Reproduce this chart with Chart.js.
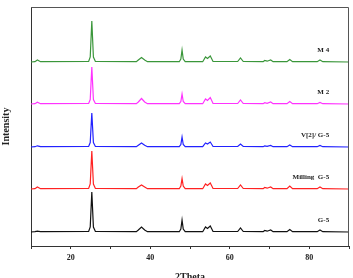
<!DOCTYPE html>
<html><head><meta charset="utf-8">
<script src="https://cdn.jsdelivr.net/npm/chart.js@4/dist/chart.umd.min.js"></script>
<style>html,body{margin:0;padding:0;background:#fff}#wrap{width:353px;height:278px}</style>
</head><body><div id="wrap"><canvas id="c" width="353" height="278"></canvas></div>
<script>
// 2Theta sample positions (degrees)
const twoTheta = [10,11,11.6,12.4,24.5,24.9,25.3,25.7,26.2,36.5,37.0,37.8,38.6,39.3,47.3,47.7,48.0,48.3,48.8,53.2,53.9,54.4,55.1,55.8,62.0,62.7,63.4,68.4,68.8,69.4,70.3,70.9,74.4,75.1,75.8,82.0,82.7,83.4,90];
// intensities (arbitrary units)
const g5      = [0,0.3,0.8,0.3,0.5,5,40,5,0.5,0.3,2,5,2,0.3,0.3,3,12,3,0.3,0.3,5,3.5,6,0.5,0.5,4,0.5,0.3,1.5,0.8,2,0.3,0.3,2.5,0.3,0.3,2,0.3,0];
const millG5  = [0,0.3,2,0.3,0.5,5,38,5,0.5,0.3,2,4,2,0.3,0.3,3,10.5,3,0.3,0.3,5,3.5,6,0.5,0.5,4,0.5,0.3,1.5,0.8,2,0.3,0.3,3,0.3,0.3,2,0.3,0];
const v2G5    = [0,0.3,1.2,0.3,0.5,4.5,34,4.5,0.5,0.3,1.8,4,1.8,0.3,0.3,2.5,10,2.5,0.3,0.3,4,3,5,0.5,0.5,3,0.5,0.3,1.2,0.6,1.5,0.3,0.3,2,0.3,0.3,1.5,0.3,0];
const m2      = [0,0.3,1.8,0.3,0.5,4.5,37,4.5,0.5,0.3,2,5.5,2,0.3,0.3,2.5,10,2.5,0.3,0.3,5,3.5,6.5,0.5,0.5,4,0.5,0.3,1.3,0.7,2,0.3,0.3,2.5,0.3,0.3,1.5,0.3,0];
const m4      = [0,0.3,2,0.3,0.5,5,41,5,0.5,0.3,2,4.5,2,0.3,0.3,3,12,3,0.3,0.3,5,3.5,6,0.5,0.5,4,0.5,0.3,1.5,0.8,2,0.3,0.3,2.5,0.3,0.3,2,0.3,0];
// stacking offsets of the curves
const offsets = [14,57,99,142,184];
const seriesNames = ['G-5','Milling  G-5','V[2]/ G-5','M 2','M 4'];
const seriesValues = [g5,millG5,v2G5,m2,m4];
const colors = ['#111111','#ff2222','#2222ff','#ff33ff','#3a963a'];
const xTickLabels = [20,40,60,80];

const datasets = seriesValues.map((vals,i)=>({
  label: seriesNames[i],
  data: twoTheta.map((x,j)=>({x:x,y:vals[j]+offsets[i]})),
  showLine:true, pointRadius:0, borderColor:colors[i], borderWidth:1.2, tension:0
}));

const deco = {
  id:'deco',
  afterDraw(chart){
    const {ctx, chartArea:a, scales} = chart;
    ctx.save();
    ctx.strokeStyle='#555'; ctx.lineWidth=1;
    ctx.beginPath();
    ctx.moveTo(a.left, a.top+0.5); ctx.lineTo(a.right-0.5, a.top+0.5); ctx.lineTo(a.right-0.5, a.bottom);
    ctx.stroke();
    ctx.fillStyle='#222';
    ctx.font='bold 7px "Liberation Serif"';
    ctx.textAlign='right'; ctx.textBaseline='middle';
    seriesNames.forEach((n,i)=>{
      ctx.fillText(n, scales.x.getPixelForValue(85), scales.y.getPixelForValue(offsets[i]+12));
    });
    ctx.font='bold 10px "Liberation Serif"';
    ctx.textAlign='center'; ctx.textBaseline='middle';
    ctx.fillText('2Theta', (a.left+a.right)/2, 277);
    ctx.restore();
  }
};

new Chart(document.getElementById('c'),{
  type:'scatter',
  data:{datasets},
  options:{
    responsive:false, animation:false,
    layout:{padding:{top:7,right:2,left:0,bottom:0}},
    plugins:{legend:{display:false},tooltip:{enabled:false}},
    scales:{
      x:{type:'linear',min:10,max:90,
        ticks:{stepSize:10,autoSkip:false,maxRotation:0,padding:4,color:'#222',
          font:{family:'Liberation Serif',weight:'bold',size:8},
          callback:v=>xTickLabels.includes(v)?String(v):''},
        grid:{display:true,drawOnChartArea:false,drawTicks:true,tickLength:3,tickColor:'#333'},
        border:{display:true,color:'#333',width:1},
        afterFit(s){s.height=32;}
      },
      y:{type:'linear',min:0,max:239,
        ticks:{display:false},
        grid:{display:false},
        border:{display:true,color:'#333',width:1},
        title:{display:true,text:'Intensity',color:'#222',padding:{top:0,bottom:0},
          font:{family:'Liberation Serif',weight:'bold',size:10}},
        afterFit(s){s.width=31;}
      }
    }
  },
  plugins:[deco]
});
</script></body></html>
